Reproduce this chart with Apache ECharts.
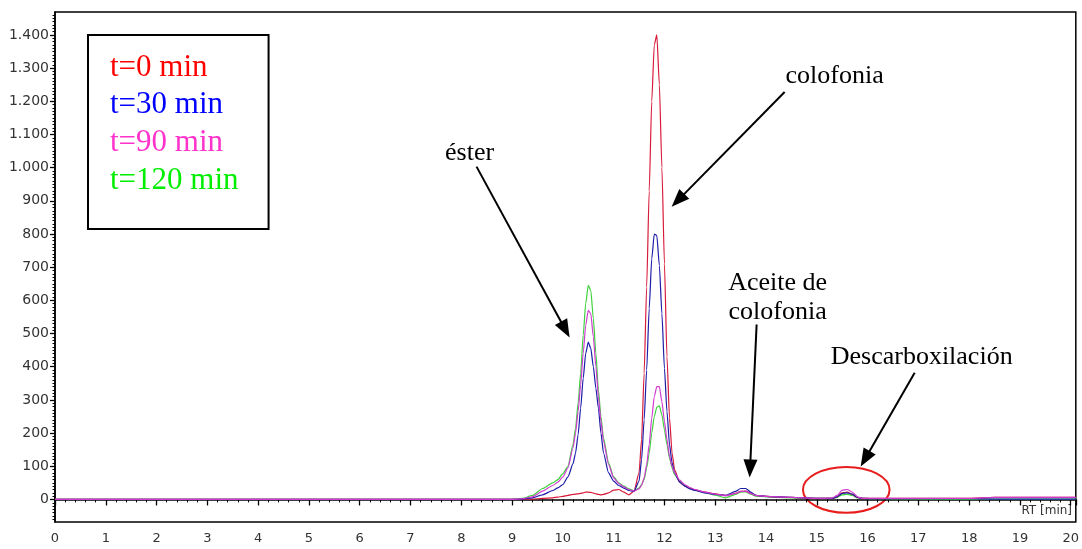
<!DOCTYPE html>
<html><head><meta charset="utf-8">
<script src="https://cdn.jsdelivr.net/npm/echarts@6/dist/echarts.min.js"></script>
<style>html,body{margin:0;padding:0;background:#fff}#c{width:1082px;height:549px}</style>
</head><body><div id="c"></div>
<script>
// Retention time (min)
const rt = [0, 2.6, 5.5, 9.0, 9.2, 9.4, 9.6, 9.8, 9.9, 10.0,
  10.1, 10.2, 10.25, 10.3, 10.35, 10.4, 10.45, 10.5, 10.55, 10.6,
  10.65, 10.7, 10.75, 10.8, 10.9, 11.0, 11.1, 11.2, 11.3, 11.4,
  11.5, 11.55, 11.6, 11.65, 11.7, 11.75, 11.8, 11.85, 11.9, 11.95,
  12.0, 12.05, 12.1, 12.15, 12.2, 12.3, 12.4, 12.5, 12.6, 12.8,
  13.0, 13.2, 13.4, 13.5, 13.6, 13.7, 13.8, 14.0, 14.5, 15.0,
  15.3, 15.4, 15.5, 15.6, 15.7, 15.8, 15.9, 16.2, 18.0, 18.5, 20.1];
// t = 0 min
const t0 = [0, 0, 0, 0, 0, 1, 3, 5, 7, 9,
  12, 15, 16, 17, 18, 20, 22, 22, 21, 19,
  17, 15, 14, 15, 20, 28, 30, 22, 14, 25,
  80, 180, 380, 640, 930, 1200, 1370, 1400, 1250, 1000,
  710, 430, 245, 140, 90, 52, 40, 33, 28, 22,
  17, 12, 18, 24, 25, 18, 12, 9, 6, 3,
  3, 8, 20, 22, 15, 6, 3, 3, 3, 6, 6];
// t = 30 min
const t30 = [0, 0, 0, 0, 1, 5, 14, 27, 35, 45,
  68, 108, 140, 195, 275, 365, 440, 474, 455, 400,
  335, 275, 200, 140, 80, 55, 42, 34, 27, 24,
  55, 120, 240, 390, 575, 725, 800, 795, 705, 560,
  395, 265, 165, 110, 80, 52, 40, 32, 27, 20,
  15, 12, 24, 33, 33, 22, 12, 9, 6, 3,
  3, 8, 18, 20, 16, 6, 3, 2, 2, 1, 1];
// t = 90 min
const t90 = [0, 0, 0, 0, 2, 8, 25, 42, 52, 68,
  95, 155, 200, 265, 345, 440, 525, 570, 560, 490,
  400, 310, 235, 175, 105, 65, 48, 38, 30, 25,
  32, 42, 65, 105, 165, 245, 310, 340, 340, 295,
  235, 180, 130, 100, 80, 58, 45, 36, 30, 22,
  16, 11, 18, 24, 25, 18, 12, 9, 6, 3,
  4, 12, 28, 30, 22, 8, 3, 3, 3, 6, 6];
// t = 120 min
const t120 = [0, 0, 0, 0, 3, 12, 33, 50, 60, 78,
  100, 165, 215, 290, 380, 495, 590, 645, 630, 545,
  440, 330, 250, 185, 110, 68, 50, 40, 32, 26,
  34, 45, 60, 95, 140, 200, 250, 278, 282, 255,
  210, 165, 125, 95, 75, 55, 42, 34, 28, 20,
  13, 5, 15, 22, 23, 16, 10, 8, 5, 3,
  3, 6, 14, 15, 12, 5, 3, 2, 0, 1, 1];

const seriesNames = ['t=0 min', 't=30 min', 't=90 min', 't=120 min'];
const yTickValues = [0, 100, 200, 300, 400, 500, 600, 700, 800, 900, 1000, 1100, 1200, 1300, 1400];

const lineColors = ['#d81b3a', '#1c1ca8', '#d03ad0', '#3cd23c'];
const legendColors = ['#ff0000', '#0000ff', '#ff33cc', '#00ee00'];

const yMinor = [];
for (let v = -60; v <= 1460; v += 10) if (v % 100 !== 0) yMinor.push(v);

const chart = echarts.init(document.getElementById('c'), null, {renderer: 'canvas'});
const YMIN = -68, YMAX = 1469;
const fmtY = v => v >= 1000 ? Math.floor(v / 1000) + '.' + String(v % 1000).padStart(3, '0') : String(v);

const dataSets = [t0, t30, t90, t120];
const drawOrder = [3, 0, 1, 2];
const series = drawOrder.map(i => ({
  name: seriesNames[i], type: 'line', showSymbol: false, symbol: 'none',
  smooth: 0.2, smoothMonotone: 'x',
  lineStyle: {width: 1.2, color: lineColors[i]}, itemStyle: {color: lineColors[i]},
  data: rt.map((x, k) => [x, dataSets[i][k]]), animation: false, silent: true
}));

chart.setOption({
  animation: false,
  backgroundColor: '#fff',
  grid: {left: 55, right: 6, top: 12, bottom: 27, show: true, borderColor: '#000', borderWidth: 1.5, backgroundColor: 'transparent'},
  legend: {
    orient: 'vertical', left: 88, top: 35, icon: 'none', itemWidth: 0, itemHeight: 30, itemGap: 6.7,
    padding: [17, 30, 33, 17], borderColor: '#000', borderWidth: 2, selectedMode: false,
    textStyle: {fontFamily: 'Liberation Serif', fontSize: 31},
    data: seriesNames.map((n, i) => ({name: n, textStyle: {color: legendColors[i]}}))
  },
  xAxis: {
    type: 'value', min: 0, max: 20.1, interval: 1,
    axisLine: {show: true, lineStyle: {color: '#000', width: 1.5}},
    axisTick: {show: true, length: 6, lineStyle: {color: '#000', width: 1.3}},
    minorTick: {show: true, splitNumber: 5, length: 3, lineStyle: {color: '#000', width: 1}},
    axisLabel: {showMaxLabel: false, margin: 10, fontFamily: 'DejaVu Sans', fontSize: 13, color: '#333'},
    splitLine: {show: false}
  },
  yAxis: [{
    type: 'value', min: YMIN, max: YMAX,
    axisLine: {show: true, lineStyle: {color: '#000', width: 1.5}},
    axisTick: {show: true, length: 5, customValues: yTickValues, lineStyle: {color: '#000', width: 1.3}},
    axisLabel: {customValues: yTickValues, formatter: fmtY, margin: 6, fontFamily: 'DejaVu Sans', fontSize: 14, color: '#333'},
    splitLine: {show: false}
  }, {
    type: 'value', min: YMIN, max: YMAX, position: 'left',
    axisLine: {show: false},
    axisTick: {show: true, length: 2.5, customValues: yMinor, lineStyle: {color: '#000', width: 1}},
    axisLabel: {show: false},
    splitLine: {show: false}
  }],
  series: series
});

// Annotations (data coordinates)
const labels = [
  {text: 'éster', x: 8.163, y: 1045},
  {text: 'colofonia', x: 15.352, y: 1277},
  {text: 'Aceite de', x: 14.229, y: 653},
  {text: 'colofonia', x: 14.229, y: 563},
  {text: 'Descarboxilación', x: 17.065, y: 428}
];
const arrows = [
  {from: [8.30, 1003], to: [10.133, 488]},
  {from: [14.367, 1228], to: [12.142, 882]},
  {from: [13.815, 527], to: [13.678, 66]},
  {from: [16.927, 382], to: [15.864, 99]}
];
const ring = {cx: 15.58, cy: 29, rx: 0.853, ry: 69};

const P = p => chart.convertToPixel({gridIndex: 0}, p);
const g = [];
labels.forEach(l => {
  const p = P([l.x, l.y]);
  g.push({type: 'text', x: p[0], y: p[1], silent: true,
    style: {text: l.text, fill: '#000', font: '26px "Liberation Serif"', align: 'center', verticalAlign: 'middle'}});
});
arrows.forEach(a => {
  const s = P(a.from), t = P(a.to);
  const dx = t[0] - s[0], dy = t[1] - s[1], len = Math.hypot(dx, dy);
  const ux = dx / len, uy = dy / len, L = 18, W = 7;
  const bx = t[0] - ux * L, by = t[1] - uy * L;
  g.push({type: 'line', silent: true, shape: {x1: s[0], y1: s[1], x2: bx + ux * 2, y2: by + uy * 2}, style: {stroke: '#000', lineWidth: 2}});
  g.push({type: 'polygon', silent: true, shape: {points: [[t[0], t[1]], [bx - uy * W, by + ux * W], [bx + uy * W, by - ux * W]]}, style: {fill: '#000'}});
});
const c = P([ring.cx, ring.cy]);
const rxp = P([ring.cx + ring.rx, ring.cy])[0] - c[0];
const ryp = c[1] - P([ring.cx, ring.cy + ring.ry])[1];
g.push({type: 'ellipse', silent: true, shape: {cx: c[0], cy: c[1], rx: rxp, ry: ryp}, style: {fill: 'none', stroke: '#e81c1c', lineWidth: 2}});
g.push({type: 'text', right: 10, bottom: 32, silent: true, style: {text: 'RT [min]', fill: '#333', font: '12px "DejaVu Sans"'}});
chart.setOption({graphic: g});
</script>
</body></html>
